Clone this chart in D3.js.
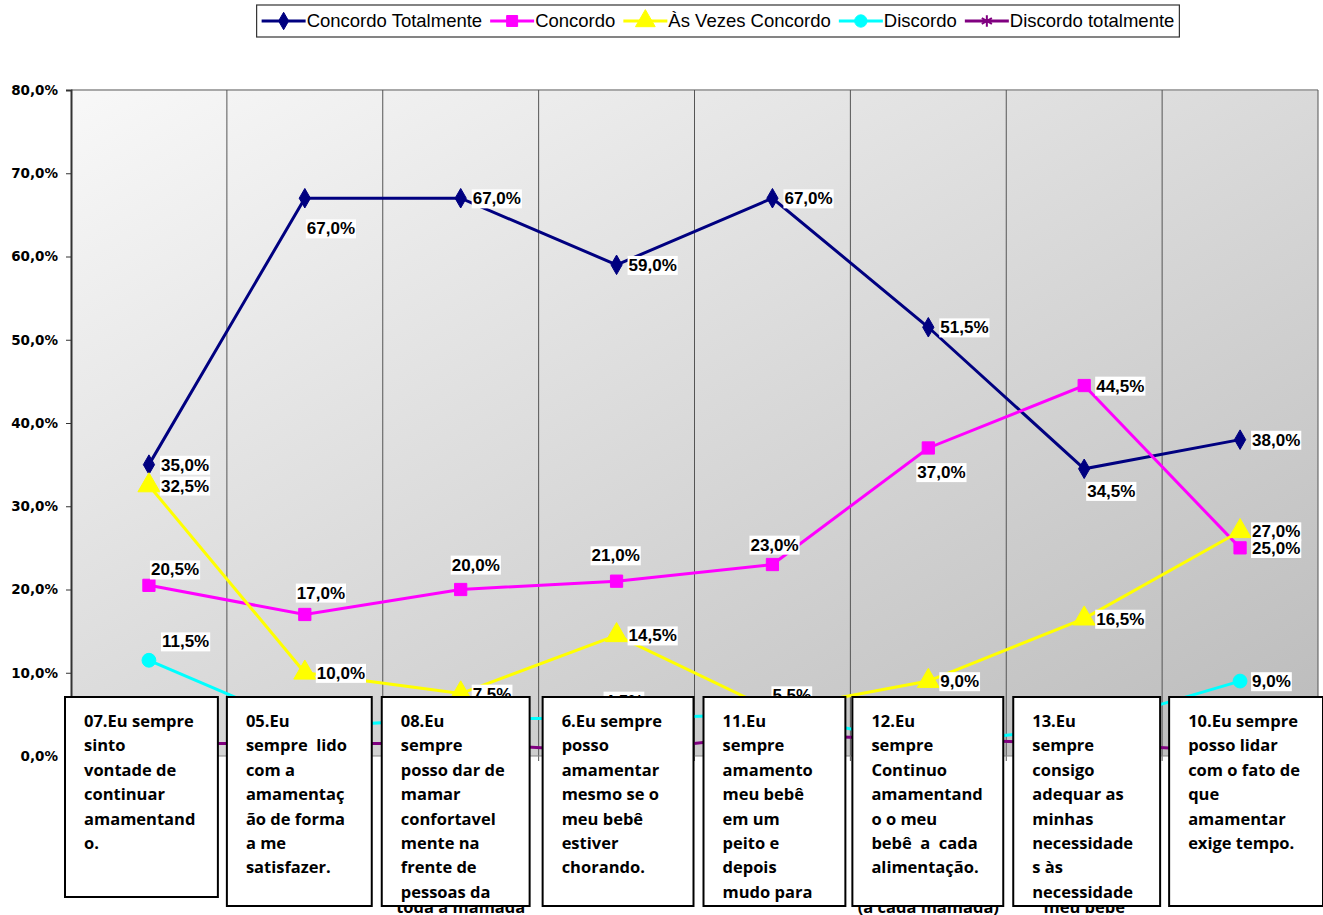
<!DOCTYPE html>
<html><head><meta charset="utf-8">
<script src="https://cdn.jsdelivr.net/npm/d3@7"></script>
<style>body{margin:0;background:#fff;}svg{display:block;}</style>
</head><body>
<script>
// ---------- data ----------
const categories = ["07","05","08","6","11","12","13","10"];
const seriesNames = ["Concordo Totalmente","Concordo","Às Vezes Concordo","Discordo","Discordo totalmente"];
const concordoTotalmente = [35.0,67.0,67.0,59.0,67.0,51.5,34.5,38.0];
const concordo          = [20.5,17.0,20.0,21.0,23.0,37.0,44.5,25.0];
const asVezesConcordo   = [32.5,10.0,7.5,14.5,5.5,9.0,16.5,27.0];
const discordo          = [11.5,3.5,4.5,4.5,5.0,1.5,3.5,9.0];
const discordoTotalmente= [1.5,1.5,1.5,0.5,2.5,2.0,1.5,0.5];
const yTicks = [0,10,20,30,40,50,60,70,80];
const boxTexts = [
 ["07.Eu sempre","sinto","vontade de","continuar","amamentand","o."],
 ["05.Eu","sempre  lido","com a","amamentaç","ão de forma","a me","satisfazer."],
 ["08.Eu","sempre","posso dar de","mamar","confortavel","mente na","frente de","pessoas da"],
 ["6.Eu sempre","posso","amamentar","mesmo se o","meu bebê","estiver","chorando."],
 ["11.Eu","sempre","amamento","meu bebê","em um","peito e","depois","mudo para"],
 ["12.Eu","sempre","Continuo","amamentand","o o meu","bebê  a  cada","alimentação."],
 ["13.Eu","sempre","consigo","adequar as","minhas","necessidade","s às","necessidade"],
 ["10.Eu sempre","posso lidar","com o fato de","que","amamentar","exige tempo."]
];
const axisLabelTails = ["","","toda a mamada","","","(a cada mamada)","meu bebê",""];

// ---------- styles ----------
const colors = ["#000080","#ff00ff","#ffff00","#00ffff","#800080"];
const symbols = [d3.symbolDiamond, d3.symbolSquare, d3.symbolTriangle, d3.symbolCircle, d3.symbolAsterisk];
const symSizes = [110, 150, 210, 150, 120];
// label offsets (dx of left edge, dy of centre) relative to the point; null = label hidden behind a text box
const labelOffsets = [
 [[12,0],[2,30],[12,0],[12,0],[12,0],[12,0],[3,22],[12,0]],
 [[2,-16],[-8,-22],[-9,-25],[-25,-26],[-22,-20],[-11,24],[12,0],[12,0]],
 [[12,0],[12,0],[12,0],[12,0],[0,-15],[12,0],[12,0],[12,0]],
 [[13,-19],null,null,[-12,-18],null,null,null,[12,0]],
 [null,null,null,null,null,null,null,null]
];
const boxInsets = [[-6,-9],[0,-11],[-1,-9],[4,-1],[9,-5],[2,-3],[7,-2],[7,5]];
const boxBottoms = [897,906,906,906,906,906,906,906];

const allSeries = [concordoTotalmente, concordo, asVezesConcordo, discordo, discordoTotalmente];

const W=1323,H=915;
const svg = d3.select("body").append("svg").attr("width",W).attr("height",H);
const L=71,R=1318,T=90,B=756;
const x = d3.scaleBand().domain(categories).range([L,R]).padding(0);
const y = d3.scaleLinear().domain([0,80]).range([B,T]);
const cx = c => x(c)+x.bandwidth()/2;

// gradient
const defs = svg.append("defs");
const g = defs.append("linearGradient").attr("id","bg").attr("x1",0).attr("y1",0).attr("x2",1).attr("y2",1);
g.append("stop").attr("offset","0%").attr("stop-color","#f8f8f8");
g.append("stop").attr("offset","100%").attr("stop-color","#bbbbbb");

svg.append("rect").attr("x",L).attr("y",T).attr("width",R-L).attr("height",B-T).attr("fill","url(#bg)");
svg.append("line").attr("x1",L).attr("x2",R).attr("y1",T).attr("y2",T).attr("stroke","#a8a8a8").attr("stroke-width",2);

// category separators
svg.append("g").selectAll("line").data(categories).join("line")
  .attr("x1",c=>x(c)+x.bandwidth()).attr("x2",c=>x(c)+x.bandwidth())
  .attr("y1",T).attr("y2",B+5).attr("stroke","#555").attr("stroke-width",1);
svg.append("line").attr("x1",L).attr("x2",R).attr("y1",B).attr("y2",B).attr("stroke","#888").attr("stroke-width",1);

// axis labels behind boxes (tails)
svg.append("g").selectAll("text").data(categories).join("text")
  .attr("x",cx).attr("y",913).attr("text-anchor","middle")
  .attr("font-family","Open Sans").attr("font-weight","bold").attr("font-size",16.5)
  .text((c,i)=>axisLabelTails[i]);

// y axis
const loc = d3.formatLocale({decimal:",",thousands:".",grouping:[3],currency:["",""]});
const fmt = loc.format(".1f");
const yAxis = d3.axisLeft(y).tickValues(yTicks).tickSize(5).tickPadding(8).tickFormat(v=>fmt(v)+"%");
const ya = svg.append("g").attr("transform",`translate(${L},0)`).call(yAxis);
ya.select(".domain").attr("stroke","#333").attr("stroke-width",2);
ya.selectAll(".tick line").attr("stroke","#333");
ya.selectAll("text").attr("font-family","DejaVu Sans").attr("font-weight","bold").attr("font-size",13.5).attr("fill","#000");

// lines & markers
const line = d3.line().x((v,i)=>cx(categories[i])).y(v=>y(v));
allSeries.forEach((s,k)=>{
  svg.append("path").datum(s).attr("d",line).attr("fill","none").attr("stroke",colors[k]).attr("stroke-width",3);
  const sym = d3.symbol().type(symbols[k]).size(symSizes[k]);
  svg.append("g").selectAll("path").data(s).join("path")
    .attr("transform",(v,i)=>`translate(${cx(categories[i])},${y(v)})`)
    .attr("d",sym)
    .attr("fill", k===4?"none":colors[k])
    .attr("stroke",colors[k]).attr("stroke-width",k===4?2:1);
});

// data labels
const lblG = svg.append("g");
allSeries.forEach((s,k)=>{
  s.forEach((v,i)=>{
    const o = labelOffsets[k][i];
    if(!o) return;
    const px = cx(categories[i])+o[0], py = y(v)+o[1];
    const gg = lblG.append("g");
    const t = gg.append("text").attr("x",px).attr("y",py).attr("dy","0.36em")
      .attr("font-family","Liberation Sans, Arial").attr("font-weight","bold").attr("font-size",17)
      .text(fmt(v)+"%");
    const bb = t.node().getBBox();
    gg.insert("rect","text").attr("x",bb.x-1).attr("y",bb.y).attr("width",bb.width+2).attr("height",bb.height).attr("fill","#fff");
  });
});

// text boxes
const boxTop = 697, lineH = 24.4, firstBase = 727;
categories.forEach((c,i)=>{
  const x0 = x(c)+boxInsets[i][0], x1 = x(c)+x.bandwidth()+boxInsets[i][1];
  const y1 = boxBottoms[i];
  defs.append("clipPath").attr("id","clip"+i).append("rect")
    .attr("x",x0).attr("y",boxTop).attr("width",x1-x0).attr("height",y1-boxTop);
  svg.append("rect").attr("x",x0).attr("y",boxTop).attr("width",x1-x0).attr("height",y1-boxTop)
    .attr("fill","#fff");
  const tg = svg.append("g").attr("clip-path",`url(#clip${i})`);
  tg.selectAll("text").data(boxTexts[i]).join("text")
    .attr("x",x0+19).attr("y",(d,j)=>firstBase+j*lineH)
    .attr("font-family","Open Sans").attr("font-weight","bold").attr("font-size",16.5)
    .attr("xml:space","preserve").style("white-space","pre")
    .text(d=>d);
  svg.append("rect").attr("x",x0).attr("y",boxTop).attr("width",x1-x0).attr("height",y1-boxTop)
    .attr("fill","none").attr("stroke","#000").attr("stroke-width",2);
});

// legend
const lg = svg.append("g");
const lineLen = 44, gap = 8;
let cur = 0;
seriesNames.forEach((n,k)=>{
  const it = lg.append("g").attr("transform",`translate(${cur},0)`);
  it.append("line").attr("x1",0).attr("x2",lineLen).attr("y1",21).attr("y2",21).attr("stroke",colors[k]).attr("stroke-width",3);
  it.append("path").attr("transform",`translate(${lineLen/2},21)`)
    .attr("d",d3.symbol().type(symbols[k]).size(symSizes[k]*0.8)())
    .attr("fill",k===4?"none":colors[k]).attr("stroke",colors[k]).attr("stroke-width",k===4?2:1);
  const t = it.append("text").attr("x",lineLen+1).attr("y",21).attr("dy","0.35em")
    .attr("font-family","Liberation Sans, Arial").attr("font-size",18.5).text(n);
  cur += lineLen+1+t.node().getComputedTextLength()+gap;
});
const totalW = cur-gap;
const lx = 718 - totalW/2;
lg.attr("transform",`translate(${lx},0)`);
svg.insert("rect",":first-child").attr("x",lx-5).attr("y",5).attr("width",totalW+10).attr("height",32)
  .attr("fill","#fff").attr("stroke","#333").attr("stroke-width",1.2);
</script>
</body></html>
